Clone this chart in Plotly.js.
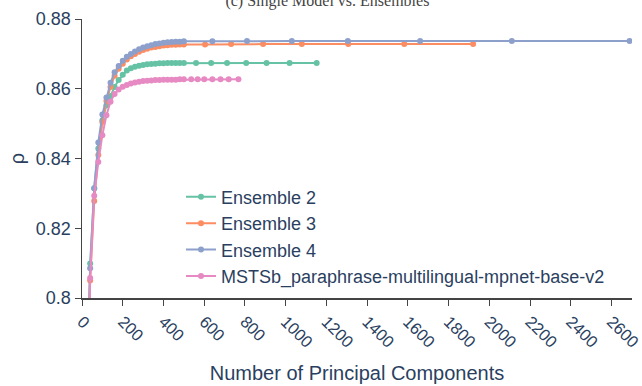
<!DOCTYPE html>
<html>
<head>
<meta charset="utf-8">
<script src="https://cdn.plot.ly/plotly-3.0.1.min.js"></script>
<style>html,body{margin:0;padding:0;background:#fff}#chart{width:642px;height:386px}</style>
</head>
<body>
<div id="chart"></div>
<script>
// Dense evaluation grid (number of principal components)
const denseX = [20,40,60,80,100,120,140,160,180,200,220,240,260,280,300,320,340,360,380,400,420,440,460,480,500];

// Ensemble 2
const ens2X = denseX.concat([560,634,712,806,906,1019,1152]);
const ens2Y = [0.765,0.8099,0.8315,0.8429,0.8510,0.8553,0.8579,0.8605,0.8625,0.8640,0.8652,0.8659,0.8663,0.8666,0.8668,0.8670,0.8671,0.8672,0.8673,0.8673,0.8674,0.8674,0.8674,0.8674,0.8674,
               0.8674,0.8674,0.8674,0.8674,0.8674,0.8674,0.8674];

// Ensemble 3
const ens3X = denseX.concat([604,732,889,1079,1307,1582,1920]);
const ens3Y = [0.760,0.8050,0.8278,0.8410,0.8505,0.8565,0.8605,0.8637,0.8657,0.8672,0.8684,0.8693,0.8700,0.8706,0.8711,0.8715,0.8718,0.8720,0.8722,0.8724,0.8725,0.8726,0.8726,0.8727,0.8727,
               0.8727,0.8728,0.8728,0.8728,0.8728,0.8728,0.8728];

// Ensemble 4
const ens4X = denseX.concat([640,810,1030,1305,1660,2110,2688]);
const ens4Y = [0.765,0.8085,0.8315,0.8446,0.8526,0.8575,0.8617,0.8647,0.8665,0.8680,0.8692,0.8700,0.8707,0.8713,0.8718,0.8722,0.8725,0.8728,0.8730,0.8732,0.8733,0.8734,0.8735,0.8735,0.8736,
               0.8736,0.8737,0.8737,0.8737,0.8737,0.8737,0.8737];

// MSTSb_paraphrase-multilingual-mpnet-base-v2
const mstsX = denseX.concat([536,568,600,640,680,720,768]);
const mstsY = [0.760,0.8057,0.8293,0.8390,0.8467,0.8524,0.8563,0.8585,0.8598,0.8606,0.8611,0.8615,0.8618,0.8620,0.8622,0.8623,0.8624,0.8625,0.8625,0.8626,0.8626,0.8626,0.8626,0.8627,0.8627,
               0.8627,0.8627,0.8627,0.8627,0.8627,0.8627,0.8627];

const seriesNames = ["Ensemble 2","Ensemble 3","Ensemble 4","MSTSb_paraphrase-multilingual-mpnet-base-v2"];
const seriesColors = ["#66c2a5","#fc8d62","#8da0cb","#e78ac3"];
const xTickVals = [0,200,400,600,800,1000,1200,1400,1600,1800,2000,2200,2400,2600];
const yTickVals = [0.8,0.82,0.84,0.86,0.88];
const yTickText = ["0.8","0.82","0.84","0.86","0.88"];
const titleText = "(c) Single Model vs. Ensembles";

const xs = [ens2X, ens3X, ens4X, mstsX];
const ys = [ens2Y, ens3Y, ens4Y, mstsY];

const traces = seriesNames.map((n, i) => ({
  type: "scatter",
  mode: "lines+markers",
  name: n,
  x: xs[i],
  y: ys[i],
  line: {color: seriesColors[i], width: 2},
  marker: {color: seriesColors[i], size: 6},
  cliponaxis: true
}));

const font = {family: "Liberation Sans, Arial, sans-serif", size: 18, color: "#2a3f5f"};

const layout = {
  width: 642, height: 386,
  margin: {l: 82, r: 10, t: 19, b: 88},
  paper_bgcolor: "#fff", plot_bgcolor: "#fff",
  font: font,
  showlegend: true,
  title: {text: titleText, x: 0.51, xref: "container", y: 1, yref: "container", yanchor: "middle",
          font: {family: "Liberation Serif, serif", size: 16, color: "#444"}},
  legend: {x: 0.18, y: 0.428, xanchor: "left", yanchor: "top", bgcolor: "rgba(255,255,255,0)",
           font: {size: 18, color: "#2a3f5f"}, tracegroupgap: 0},
  xaxis: {
    range: [0, 2700], tickvals: xTickVals, tickangle: 45, ticklabeloverflow: "allow",
    tickfont: {size: 16.5},
    showline: true, linecolor: "#444", linewidth: 1.5, ticks: "outside", ticklen: 6, tickcolor: "#444",
    showgrid: false, zeroline: false, mirror: false,
    title: {text: "Number of Principal Components", font: {size: 20}, standoff: 16}
  },
  yaxis: {
    range: [0.8, 0.88], tickvals: yTickVals, ticktext: yTickText,
    showline: true, linecolor: "#444", linewidth: 1.5, ticks: "outside", ticklen: 6, tickcolor: "#444",
    showgrid: false, zeroline: false,
    title: {text: "ρ", font: {size: 20}, standoff: 6}
  }
};

Plotly.newPlot("chart", traces, layout, {displayModeBar: false, staticPlot: true});
</script>
</body>
</html>
